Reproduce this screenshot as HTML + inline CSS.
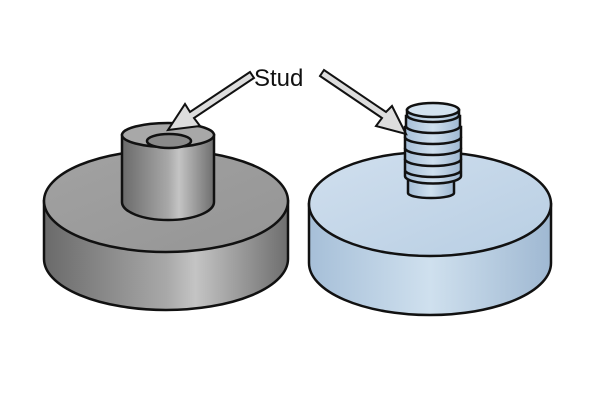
<!DOCTYPE html><html><head><style>body{margin:0;background:#fff}svg{display:block}</style></head><body>
<svg width="600" height="400" viewBox="0 0 600 400" xmlns="http://www.w3.org/2000/svg">
<defs>
<linearGradient id="gs" x1="0" x2="1"><stop offset="0" stop-color="#6a6a6a"/><stop offset=".5" stop-color="#a8a8a8"/><stop offset=".62" stop-color="#c4c4c4"/><stop offset="1" stop-color="#6e6e6e"/></linearGradient>
<linearGradient id="gt" x1="0" x2="1" y1="0" y2="1"><stop offset="0" stop-color="#a2a2a2"/><stop offset="1" stop-color="#959595"/></linearGradient>
<linearGradient id="bs" x1="0" x2="1"><stop offset="0" stop-color="#a6bfd8"/><stop offset=".5" stop-color="#cfe0ee"/><stop offset="1" stop-color="#9fb8d2"/></linearGradient>
<linearGradient id="bt" x1="0" x2="1" y1="0" y2="1"><stop offset="0" stop-color="#d0dfee"/><stop offset="1" stop-color="#b8cee3"/></linearGradient>
</defs>
<g stroke="#111" stroke-width="2.5">
<!-- left disc -->
<path d="M44 201 L44 259 A122 51 0 0 0 288 259 L288 201 Z" fill="url(#gs)"/>
<ellipse cx="166" cy="201" rx="122" ry="51" fill="url(#gt)"/>
<path d="M122 135 L122 202 A46 18 0 0 0 214 202 L214 135 Z" fill="url(#gs)"/>
<ellipse cx="168" cy="135" rx="46" ry="12" fill="#a8a8a8"/>
<ellipse cx="169" cy="141" rx="22" ry="7" fill="#8a8a8a"/>
<!-- right disc -->
<path d="M309 204 L309 263 A121 52 0 0 0 551 263 L551 204 Z" fill="url(#bs)"/>
<ellipse cx="430" cy="204" rx="121" ry="52" fill="url(#bt)"/>
<path d="M408 178 L408 193 A23 5 0 0 0 454 193 L454 178 Z" fill="url(#bs)"/>
<g fill="url(#bs)">
<path d="M405 172 L405 176 A26 7 0 0 0 461 176 L461 172 Z"/>
<path d="M405 160 L405 170 A28 7 0 0 0 461 170 L461 160 Z"/>
<path d="M405 149 L405 159 A28 7 0 0 0 461 159 L461 149 Z"/>
<path d="M405 138 L405 148 A28 7 0 0 0 461 148 L461 138 Z"/>
<path d="M405 127 L405 137 A28 7 0 0 0 461 137 L461 127 Z"/>
<path d="M406 116 L406 126 A27 7 0 0 0 460 126 L460 116 Z"/>
<path d="M407 110 L407 115 A26 7 0 0 0 459 115 L459 110 Z"/>
<ellipse cx="433" cy="110" rx="26" ry="7" fill="#d3e2ef"/>
</g>
<!-- arrows -->
<path d="M250 72 L190 112 L185 104 L168 130 L200 126 L194 118 L254 78 Z" fill="#ddd" stroke-width="2"/>
<path d="M320 76 L382 118 L376 126 L406 134 L392 106 L386 112 L324 70 Z" fill="#ddd" stroke-width="2"/>
</g>
<text x="254" y="86" font-family="Liberation Sans, sans-serif" font-size="24" fill="#111">Stud</text>
</svg>
</body></html>
